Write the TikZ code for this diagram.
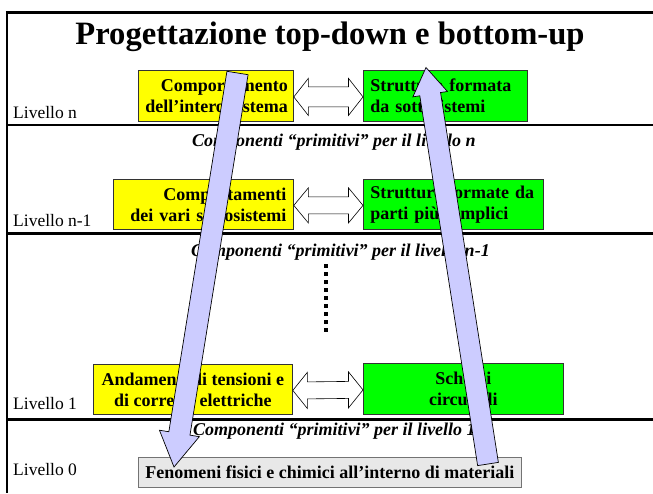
\documentclass[tikz,border=0pt]{standalone}
\usepackage{fontspec}
\setmainfont{Liberation Serif}
\usetikzlibrary{calc}

\definecolor{boxyellow}{HTML}{FFFF00}
\definecolor{boxgreen}{HTML}{00FF00}
\definecolor{basegray}{HTML}{E8E8E8}
\definecolor{flowblue}{HTML}{CCCCFF}

\newcommand\boxfont{\fontsize{18}{21}\selectfont\bfseries}

\tikzset{
  sepline/.style={line width=2.5pt},
  lvl/.style={anchor=base west, inner sep=0pt, font=\fontsize{17.5}{20}\selectfont},
  prim/.style={anchor=base west, inner sep=0pt, font=\fontsize{18}{21}\selectfont\bfseries\itshape},
  levelbox/.style={draw=black!80, line width=0.8pt, anchor=north west,
    inner xsep=7pt, inner ysep=0pt, font=\boxfont},
  ybox/.style={levelbox, fill=boxyellow},
  gbox/.style={levelbox, fill=boxgreen},
  basebox/.style={draw=black!55, line width=0.8pt, fill=basegray, anchor=north west,
    inner sep=0pt, font=\boxfont, minimum width=383pt, minimum height=30pt},
  twoway/.style={draw=black, line width=0.6pt, fill=white, line join=miter},
  flow/.style={draw=black, line width=0.7pt, fill=flowblue, line join=miter}
}

% white double-headed arrow between two level boxes:
% left anchor, right anchor, head half height, shaft half height
\newcommand\twoway[4]{%
  \coordinate (tw-l) at ($(#1)+(0,1)$);
  \coordinate (tw-r) at ($(#2)+(0,1)$);
  \draw[twoway] (tw-l) -- ++(14.5,-#3) -- ($(tw-l)+(14.5,-#4)$) -- ($(tw-r)+(-14.5,-#4)$)
    -- ($(tw-r)+(-14.5,-#3)$) -- (tw-r) -- ++(-14.5,#3) -- ($(tw-r)+(-14.5,#4)$)
    -- ($(tw-l)+(14.5,#4)$) -- ($(tw-l)+(14.5,#3)$) -- cycle;}

% wide block arrow: start, tip, shaft half width, head half width, head length
\newcommand\flowarrow[5]{%
  \coordinate (#2-b) at ($(#2)!#5!(#1)$);
  \draw[flow] ($(#1)!#3!90:(#2)$) -- ($(#2-b)!#3!90:(#2)$) -- ($(#2-b)!#4!90:(#2)$)
    -- (#2) -- ($(#2-b)!#4!-90:(#2)$) -- ($(#2-b)!#3!-90:(#2)$)
    -- ($(#1)!#3!-90:(#2)$) -- cycle;}

\begin{document}
\begin{tikzpicture}[x=1pt,y=-1pt]
\useasboundingbox (0,0) rectangle (653,493);

% frame and level separators
\draw[line width=3pt] (5.75,12.5) -- (653,12.5);
\draw[line width=2.5pt] (7,11) -- (7,493);
\draw[sepline] (7,125) -- (653,125);
\draw[sepline] (7,233.5) -- (653,233.5);
\draw[sepline] (7,419.5) -- (653,419.5);

% title
\node[anchor=base, inner sep=0pt, font=\fontsize{32.6}{38}\selectfont\bfseries]
  (title) at (330,44.5) {Progettazione top-down e bottom-up};

% level labels
\node[lvl] (lv-n)  at (13,118) {Livello n};
\node[lvl] (lv-n1) at (13,226) {Livello n-1};
\node[lvl] (lv-1)  at (13,409) {Livello 1};
\node[lvl] (lv-0)  at (13,475) {Livello 0};

% primitive components of each level
\node[prim] (pr-n)  at (192,146) {Componenti “primitivi” per il livello n};
\node[prim] (pr-n1) at (191,256) {Componenti “primitivi” per il livello n-1};
\node[prim] (pr-1)  at (193,435) {Componenti “primitivi” per il livello 1};

% level n
\node[ybox, minimum height=51pt, inner xsep=5.5pt, text width=144pt, align=right] (y1) at (138,70)
  {Comportamento\\dell’intero sistema};
\node[gbox, minimum height=51pt, text width=150pt, align=left] (g1) at (363,70)
  {Struttura formata\\da sottosistemi};

% level n-1
\node[ybox, minimum height=50pt, text width=166pt, align=right] (y2) at (113,179)
  {Comportamenti\\dei vari sottosistemi};
\node[gbox, minimum height=50pt, text width=166pt, align=left] (g2) at (363,179)
  {Strutture formate da\\parti più semplici};

% level 1
\node[ybox, minimum height=50pt, minimum width=199pt, align=center] (y3) at (93,364)
  {Andamenti di tensioni e\\di correnti elettriche};
\node[gbox, minimum height=51pt, minimum width=200pt, align=center] (g3) at (363,363)
  {Schemi\\circuitali};

% level 0
\node[basebox] (base) at (138,457) {Fenomeni fisici e chimici all’interno di materiali};

% intermediate levels
\draw[line width=3.5pt, dash pattern=on 3.5pt off 4.5pt] (326,264) -- (326,332);

% correspondence between behaviour and structure
\twoway{y1.east}{g1.west}{18.5}{10}
\twoway{y2.east}{g2.west}{17.5}{8.5}
\twoway{y3.east}{g3.west}{18}{8.5}

% top-down and bottom-up directions
\coordinate (down-s) at (237.5,73);
\coordinate (down-e) at (174,467);
\flowarrow{down-s}{down-e}{10.7pt}{20.2pt}{34pt}
\coordinate (up-s) at (488,464);
\coordinate (up-e) at (426,67.5);
\flowarrow{up-s}{up-e}{10.5pt}{17.5pt}{27pt}
\end{tikzpicture}
\end{document}
